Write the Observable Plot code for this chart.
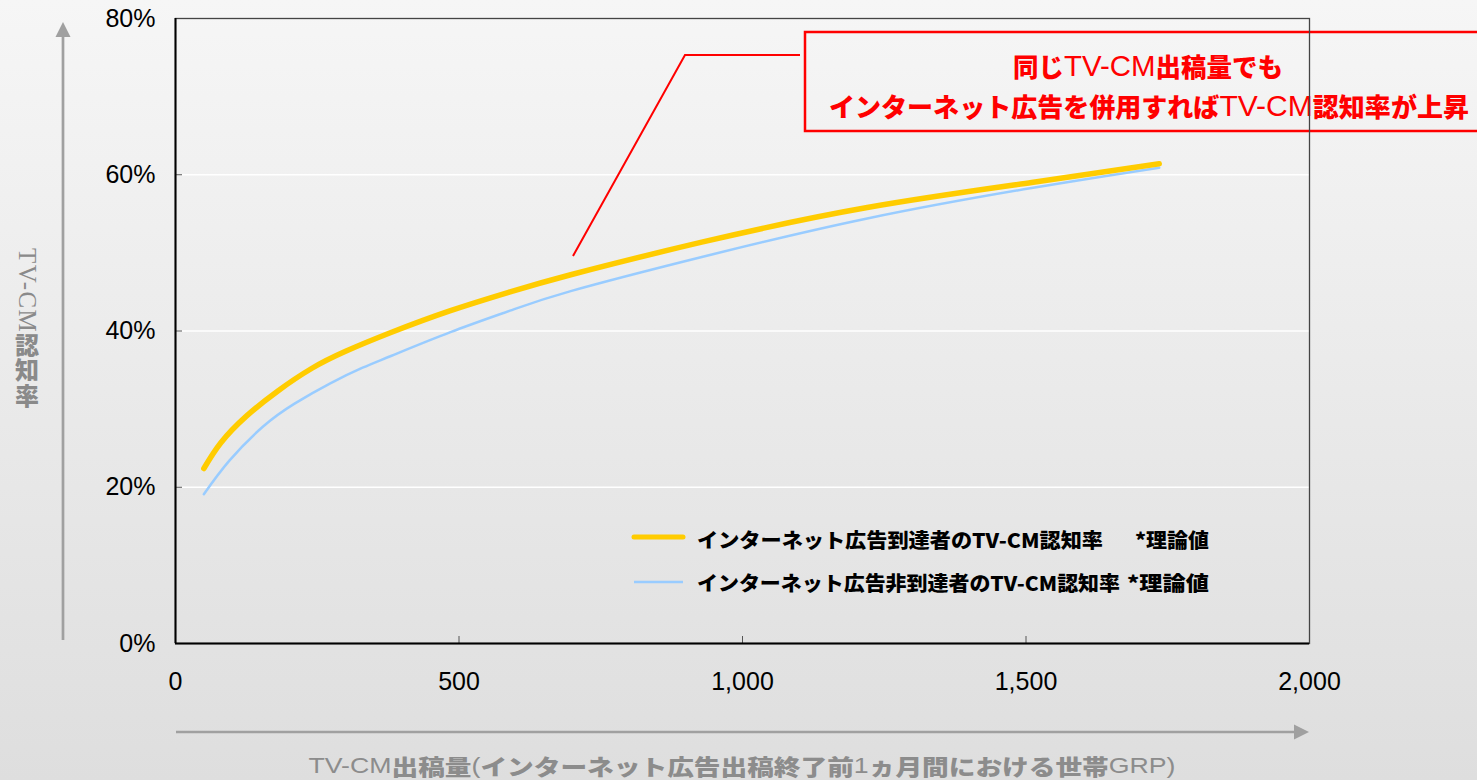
<!DOCTYPE html>
<html><head><meta charset="utf-8">
<script src="https://cdn.jsdelivr.net/npm/d3@7"></script>
<script src="https://cdn.jsdelivr.net/npm/@observablehq/plot@0.6"></script>
<style>
html,body{margin:0;padding:0;}
body{width:1477px;height:780px;background:linear-gradient(to bottom,#f6f6f6 0%,#dedede 100%);overflow:hidden;}
#chart{position:relative;width:1477px;height:780px;}
</style></head><body><div id="chart"></div>
<script>
// ---- data ----
const reachedX   = [50, 80, 125, 180, 240, 300, 380, 485, 590, 697, 930, 1220, 1510, 1735];
const reachedY   = [22.4, 25.7, 29.1, 32.3, 35.2, 37.4, 39.8, 42.6, 45.0, 47.2, 51.4, 55.8, 59.0, 61.4];
const unreachedX = [50, 95, 155, 210, 273, 330, 380, 485, 590, 697, 930, 1220, 1510, 1735];
const unreachedY = [19.1, 23.4, 27.8, 30.7, 33.3, 35.3, 36.8, 39.85, 42.6, 45.1, 49.5, 54.4, 58.3, 60.9];
const seriesNames  = ["インターネット広告到達者のTV-CM認知率", "インターネット広告非到達者のTV-CM認知率"];
const seriesNote   = "*理論値";
const seriesColors = ["#FFCC00", "#99CCFF"];
const xTicks = [0, 500, 1000, 1500, 2000];
const yTicks = [0, 20, 40, 60, 80];
const gridY  = [20, 40, 60];
const xTitleParts = [["TV-CM","n"],["出稿量","b"],["(","n"],["インターネット広告出稿終了前","b"],["1","n"],["ヵ月間における世帯","b"],["GRP)","n"]];
const yTitleParts = [["TV-CM","s"],["認知率","b"]];
const calloutLine1 = [["同じ","b"],["TV-CM","n"],["出稿量でも","b"]];
const calloutLine2 = [["インターネット広告を併用すれば","b"],["TV-CM","n"],["認知率が上昇","b"]];

const reached = reachedX.map((x, i) => ({x, y: reachedY[i]}));
const unreached = unreachedX.map((x, i) => ({x, y: unreachedY[i]}));

const plot = Plot.plot({
  width: 1477, height: 780,
  marginLeft: 175, marginRight: 168, marginTop: 18, marginBottom: 137,
  style: {background: "transparent", fontFamily: "'Liberation Sans', Arial, sans-serif", fontSize: "25px", color: "#000", overflow: "visible"},
  x: {domain: [0, 2000], label: null},
  y: {domain: [0, 80], label: null},
  marks: [
    Plot.ruleY(gridY, {stroke: "#ffffff", strokeWidth: 1.5}),
    Plot.axisX({ticks: xTicks, tickFormat: d3.format(","), tickSize: -7, tickPadding: 36, stroke: "#555", label: null}),
    Plot.axisY({ticks: yTicks, tickFormat: d => d + "%", tickSize: -7, tickPadding: 27, stroke: "#555", label: null}),
    Plot.line(unreached, {x: "x", y: "y", stroke: seriesColors[1], strokeWidth: 2.5, curve: "natural"}),
    Plot.line(reached, {x: "x", y: "y", stroke: seriesColors[0], strokeWidth: 5.5, strokeLinecap: "round", curve: "natural"}),
    Plot.frame({stroke: "#444", strokeWidth: 1.3}),
    Plot.ruleX([0], {stroke: "#000", strokeWidth: 2}),
    Plot.ruleY([0], {stroke: "#000", strokeWidth: 2})
  ]
});
document.getElementById("chart").appendChild(plot);

const CJK = "'Noto Sans CJK JP', 'Noto Sans CJK SC', sans-serif";
const NARROW = "'Liberation Sans Narrow', 'Liberation Sans', Arial, sans-serif";
const SERIF = "'Liberation Serif', 'DejaVu Serif', serif";
const svg = d3.select(plot);

function addText(g, x, y, parts, o) {
  const t = g.append("text").attr("x", x).attr("y", y)
    .attr("text-anchor", o.anchor || "middle")
    .attr("fill", o.fill).attr("font-size", o.size);
  if (o.vertical) t.style("writing-mode", "vertical-rl");
  else t.attr("dominant-baseline", "central");
  if (o.length) t.attr("textLength", o.length).attr("lengthAdjust", o.adjust || "spacingAndGlyphs");
  parts.forEach(([s, k]) => {
    const ts = t.append("tspan").text(s)
      .attr("font-family", k === "b" ? CJK : k === "s" ? SERIF : NARROW)
      .attr("font-weight", k === "b" ? 900 : 400);
    if (k !== "b" && o.latinSize) ts.attr("font-size", o.latinSize);
  });
  return t;
}

// callout (drawn beneath the frame)
const frameNode = svg.select('[aria-label="frame"]').node();
const call = svg.insert("g", () => frameNode);
call.append("polyline").attr("points", "573,256 685,55 800,55")
  .attr("fill", "none").attr("stroke", "#FF0000").attr("stroke-width", 2);
call.append("rect").attr("x", 805).attr("y", 32).attr("width", 720).attr("height", 99)
  .attr("fill", "none").attr("stroke", "#FF0000").attr("stroke-width", 2.5);
addText(call, 1148, 65, calloutLine1, {fill: "#FF0000", size: 26, latinSize: 30, length: 270});
addText(call, 1149, 105, calloutLine2, {fill: "#FF0000", size: 26, latinSize: 30, length: 640});

// legend
const lg = svg.append("g");
lg.append("line").attr("x1", 634).attr("x2", 683).attr("y1", 537).attr("y2", 537)
  .attr("stroke", seriesColors[0]).attr("stroke-width", 5).attr("stroke-linecap", "round");
lg.append("line").attr("x1", 634).attr("x2", 683).attr("y1", 582).attr("y2", 582)
  .attr("stroke", seriesColors[1]).attr("stroke-width", 2.5);
addText(lg, 697, 539, [[seriesNames[0], "b"]], {fill: "#000", size: 20, length: 406, anchor: "start"});
addText(lg, 697, 582, [[seriesNames[1], "b"]], {fill: "#000", size: 20, length: 423, anchor: "start"});
addText(lg, 1209, 539, [[seriesNote, "b"]], {fill: "#000", size: 20, length: 74, anchor: "end"});
addText(lg, 1209, 582, [[seriesNote, "b"]], {fill: "#000", size: 20, length: 82, anchor: "end"});

// axis arrows and titles
const ax = svg.append("g");
const gray = "#a0a0a0";
ax.append("line").attr("x1", 63).attr("x2", 63).attr("y1", 640).attr("y2", 34)
  .attr("stroke", gray).attr("stroke-width", 2.7);
ax.append("polygon").attr("points", "63,22 55.5,37 70.5,37").attr("fill", gray);
ax.append("line").attr("x1", 176).attr("x2", 1296).attr("y1", 732).attr("y2", 732)
  .attr("stroke", gray).attr("stroke-width", 2.7);
ax.append("polygon").attr("points", "1309,732 1294,724.5 1294,739.5").attr("fill", gray);

addText(ax, 742, 765, xTitleParts, {fill: "#8c8c8c", size: 22, length: 867});
addText(ax, 27, 248, yTitleParts, {fill: "#8a8a8a", size: 24, latinSize: 25, length: 160, adjust: "spacing", anchor: "start", vertical: true});
</script></body></html>
